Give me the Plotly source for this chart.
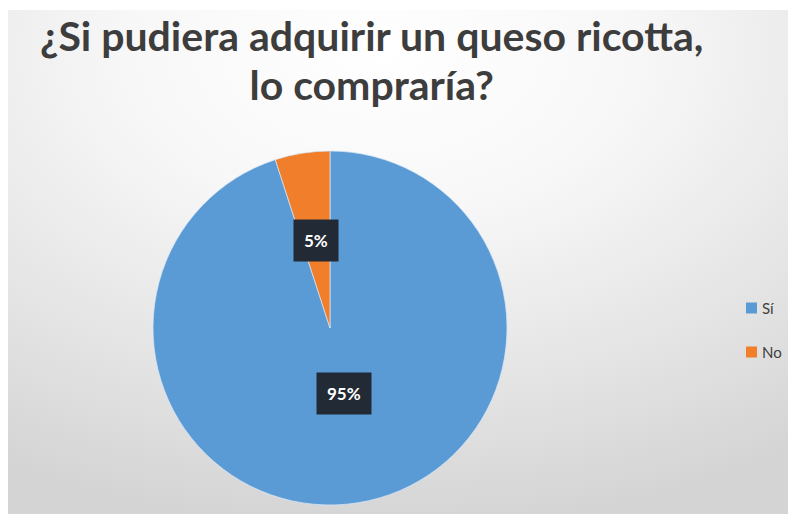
import base64
import math
import plotly.graph_objects as go

# Survey answers and their shares
labels = ["Sí", "No"]
values = [95, 5]
colors = ["#5b9bd5", "#f07e2b"]
title_lines = ["¿Si pudiera adquirir un queso ricotta,", "lo compraría?"]

W, H = 788, 514

# Pie placement in pixels
CX, CY, R = 330, 328, 177

# Soft radial backdrop drawn as an SVG image behind everything
bg_svg = f"""<svg xmlns='http://www.w3.org/2000/svg' width='{W}' height='{H}'>
<defs><radialGradient id='g' cx='48%' cy='8%' r='95%' fx='48%' fy='8%'>
<stop offset='0' stop-color='#ffffff'/>
<stop offset='0.35' stop-color='#f7f7f7'/>
<stop offset='0.75' stop-color='#e2e2e2'/>
<stop offset='1' stop-color='#d4d4d4'/>
</radialGradient></defs>
<rect width='{W}' height='{H}' fill='#ffffff'/>
<rect x='8' y='10' width='{W - 8}' height='{H - 10}' fill='url(#g)'/>
</svg>"""
bg_uri = "data:image/svg+xml;base64," + base64.b64encode(bg_svg.encode()).decode()

fig = go.Figure()
fig.add_trace(go.Pie(
    labels=labels,
    values=values,
    sort=False,
    direction="clockwise",
    rotation=0,
    marker=dict(colors=colors, line=dict(color="rgba(215,232,250,0.7)", width=1)),
    textinfo="none",
    hoverinfo="label+percent",
    showlegend=False,
    domain=dict(x=[(CX - R) / W, (CX + R) / W], y=[1 - (CY + R) / H, 1 - (CY - R) / H]),
))

# Percentage labels on dark boxes, placed at each slice's mid-angle
total = sum(values)
annotations = []
cum = 0.0
for lab, v in zip(labels, values):
    mid = (cum + v / 2) / total * 2 * math.pi  # clockwise from 12 o'clock
    cum += v
    px = CX + 0.5 * R * math.sin(mid)
    py = CY - 0.5 * R * math.cos(mid)
    annotations.append(dict(
        x=px / W, y=1 - py / H, xref="paper", yref="paper",
        text=f"{round(v / total * 100)}%", showarrow=False,
        font=dict(family="Lato", size=17, color="#ffffff", weight="bold"),
        bgcolor="#222a35", borderpad=10,
    ))

# Title: large glyphs on a tight line pitch (pitch follows the base size)
title_html = "<br>".join(f"<span style='font-size:41px'>{t}</span>" for t in title_lines)
annotations.append(dict(
    x=371 / W, y=1 - 9 / H, xref="paper", yref="paper",
    xanchor="center", yanchor="top", text=title_html, showarrow=False,
    font=dict(family="Lato", size=38, color="#3d3d3d", weight="bold"),
))

# Legend entries: colored square plus label
shapes = []
legend_y = [308, 352]
for lab, col, ly in zip(labels, colors, legend_y):
    shapes.append(dict(
        type="rect", xref="paper", yref="paper",
        x0=746 / W, x1=757 / W, y0=1 - (ly + 5.5) / H, y1=1 - (ly - 5.5) / H,
        fillcolor=col, line=dict(width=0),
    ))
    annotations.append(dict(
        x=760 / W, y=1 - ly / H, xref="paper", yref="paper",
        xanchor="left", yanchor="middle", text=lab, showarrow=False,
        font=dict(family="Lato", size=15, color="#404040"),
    ))

fig.update_layout(
    width=W, height=H,
    margin=dict(l=0, r=0, t=0, b=0),
    paper_bgcolor="#ffffff",
    plot_bgcolor="#ffffff",
    images=[dict(source=bg_uri, xref="paper", yref="paper", x=0, y=1,
                 sizex=1, sizey=1, sizing="stretch", layer="below")],
    annotations=annotations,
    shapes=shapes,
)

fig.write_html("out.html")
